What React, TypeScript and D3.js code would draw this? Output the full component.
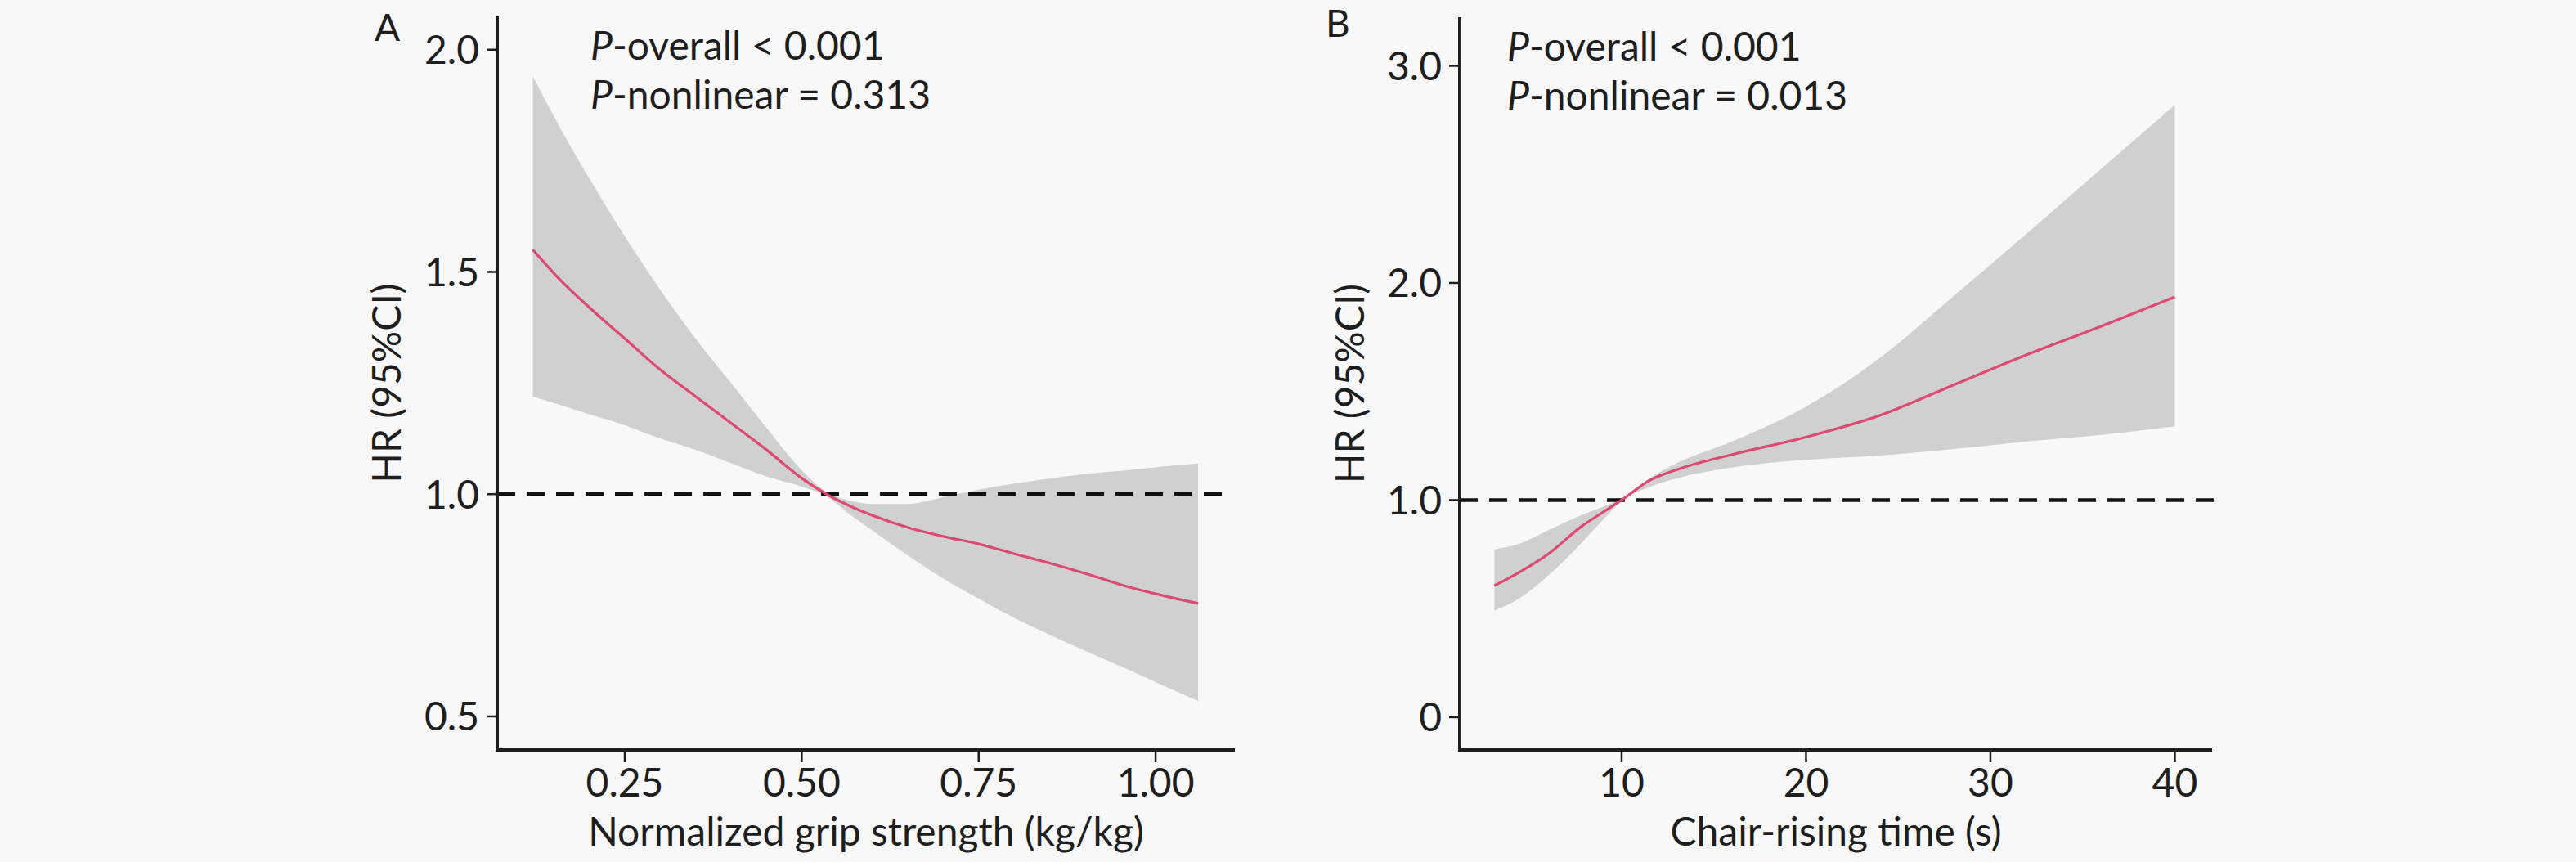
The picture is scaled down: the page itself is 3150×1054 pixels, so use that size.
import React from 'react';
import * as d3 from 'd3';

// Panel A: normalized grip strength
const gripX = [0.12, 0.16, 0.20, 0.25, 0.30, 0.35, 0.40, 0.45, 0.50, 0.535, 0.57, 0.60, 0.65, 0.70, 0.75, 0.80, 0.85, 0.90, 0.96, 1.01, 1.06];
const gripHR = [1.55, 1.48, 1.42, 1.35, 1.28, 1.22, 1.16, 1.10, 1.036, 1.00, 0.972, 0.952, 0.925, 0.905, 0.888, 0.866, 0.845, 0.822, 0.792, 0.772, 0.754];
const gripUpper = [1.94, 1.82, 1.71, 1.58, 1.46, 1.35, 1.25, 1.15, 1.054, 1.005, 0.985, 0.978, 0.978, 0.993, 1.01, 1.024, 1.035, 1.045, 1.054, 1.062, 1.069];
const gripLower = [1.22, 1.20, 1.18, 1.155, 1.125, 1.10, 1.07, 1.04, 1.017, 0.995, 0.952, 0.918, 0.862, 0.81, 0.765, 0.722, 0.684, 0.648, 0.606, 0.57, 0.535];
const gripXTicks = [0.25, 0.5, 0.75, 1.0];
const gripXLabels = ['0.25', '0.50', '0.75', '1.00'];
const gripYTicks = [0.5, 1.0, 1.5, 2.0];
const gripYLabels = ['0.5', '1.0', '1.5', '2.0'];

// Panel B: chair-rising time
const chairX = [3.1, 4.5, 6, 7.8, 9, 10, 11.5, 13, 16, 20, 24, 28, 32, 36, 40];
const chairHR = [0.606, 0.67, 0.75, 0.877, 0.945, 1.0, 1.09, 1.14, 1.21, 1.29, 1.39, 1.53, 1.67, 1.80, 1.936];
const chairUpper = [0.773, 0.80, 0.86, 0.93, 0.97, 1.005, 1.10, 1.17, 1.27, 1.43, 1.655, 1.94, 2.23, 2.525, 2.82];
const chairLower = [0.491, 0.55, 0.65, 0.80, 0.91, 0.995, 1.06, 1.10, 1.15, 1.185, 1.205, 1.235, 1.27, 1.30, 1.34];
const chairXTicks = [10, 20, 30, 40];
const chairXLabels = ['10', '20', '30', '40'];
const chairYTicks = [0, 1, 2, 3];
const chairYLabels = ['0', '1.0', '2.0', '3.0'];

const W = 3150;
const H = 1054;
const FONT = 'Lato, "Open Sans", sans-serif';
const BAND = '#d0d0d0';
const LINE = '#dd4a70';
const INK = '#1e1e1e';

interface PanelProps {
  letter: string;
  letterX: number;
  letterY: number;
  xs: number[];
  hr: number[];
  lo: number[];
  hi: number[];
  xDomain: [number, number];
  yDomain: [number, number];
  left: number;
  right: number;
  top: number;
  bottom: number;
  refEnd: number;
  xTicks: number[];
  xLabels: string[];
  yTicks: number[];
  yLabels: string[];
  xTitle: string;
  yTitleX: number;
  pOverall: string;
  pNonlinear: string;
  pX: number;
}

const Panel: React.FC<PanelProps> = (p) => {
  const x = d3.scaleLinear().domain(p.xDomain).range([p.left, p.right]);
  const y = d3.scaleLinear().domain(p.yDomain).range([p.bottom, p.top]);
  const pts = p.xs.map((v, i) => ({ x: v, hr: p.hr[i], lo: p.lo[i], hi: p.hi[i] }));

  const area = d3.area<typeof pts[0]>()
    .x(d => x(d.x))
    .y0(d => y(d.lo))
    .y1(d => y(d.hi))
    .curve(d3.curveMonotoneX);
  const line = d3.line<typeof pts[0]>()
    .x(d => x(d.x))
    .y(d => y(d.hr))
    .curve(d3.curveMonotoneX);

  const midX = (p.left + p.right) / 2;
  const midY = (p.top + p.bottom) / 2;

  return (
    <g fontFamily={FONT} fill={INK}>
      <path d={area(pts) || ''} fill={BAND} stroke="none" />
      <line x1={p.left} x2={p.refEnd} y1={y(1)} y2={y(1)} stroke="#111" strokeWidth={4.5} strokeDasharray="22 14" />
      <path d={line(pts) || ''} fill="none" stroke={LINE} strokeWidth={3.2} />

      {/* axes */}
      <line x1={p.left} x2={p.left} y1={p.top} y2={p.bottom + 2} stroke={INK} strokeWidth={4} />
      <line x1={p.left - 2} x2={p.right} y1={p.bottom} y2={p.bottom} stroke={INK} strokeWidth={4} />
      {p.yTicks.map((t, i) => (
        <g key={'y' + i}>
          <line x1={p.left - 13} x2={p.left} y1={y(t)} y2={y(t)} stroke={INK} strokeWidth={2.5} />
          <text x={p.left - 22} y={y(t)} dy="0.36em" textAnchor="end" fontSize={48}>{p.yLabels[i]}</text>
        </g>
      ))}
      {p.xTicks.map((t, i) => (
        <g key={'x' + i}>
          <line x1={x(t)} x2={x(t)} y1={p.bottom} y2={p.bottom + 15} stroke={INK} strokeWidth={2.5} />
          <text x={x(t)} y={p.bottom + 57} textAnchor="middle" fontSize={48}>{p.xLabels[i]}</text>
        </g>
      ))}

      <text x={midX} y={p.bottom + 117} textAnchor="middle" fontSize={48}>{p.xTitle}</text>
      <text transform={`translate(${p.yTitleX},${midY}) rotate(-90)`} textAnchor="middle" fontSize={48}>HR (95%CI)</text>
      <text x={p.letterX} y={p.letterY} fontSize={46}>{p.letter}</text>

      <text x={p.pX} y={p.top + 53} fontSize={48}>
        <tspan fontStyle="italic">P</tspan>-overall &lt; {p.pOverall}
      </text>
      <text x={p.pX} y={p.top + 113} fontSize={48}>
        <tspan fontStyle="italic">P</tspan>-nonlinear = {p.pNonlinear}
      </text>
    </g>
  );
};

const App: React.FC = () => {
  return (
    <svg width={W} height={H} style={{ position: 'absolute', left: 0, top: 0, display: 'block' }}>
      <rect width={W} height={H} fill="#f8f8f8" />
      <Panel
        letter="A" letterX={458} letterY={50}
        xs={gripX} hr={gripHR} lo={gripLower} hi={gripUpper}
        xDomain={[0.0697, 1.112]} yDomain={[0.4245, 2.075]}
        left={608} right={1510} top={20} bottom={917} refEnd={1500}
        xTicks={gripXTicks} xLabels={gripXLabels}
        yTicks={gripYTicks} yLabels={gripYLabels}
        xTitle="Normalized grip strength (kg/kg)" yTitleX={490}
        pOverall="0.001" pNonlinear="0.313" pX={722}
      />
      <Panel
        letter="B" letterX={1621} letterY={45}
        xs={chairX} hr={chairHR} lo={chairLower} hi={chairUpper}
        xDomain={[1.22, 42.02]} yDomain={[-0.151, 3.224]}
        left={1785} right={2705} top={21} bottom={917} refEnd={2709}
        xTicks={chairXTicks} xLabels={chairXLabels}
        yTicks={chairYTicks} yLabels={chairYLabels}
        xTitle="Chair-rising time (s)" yTitleX={1668}
        pOverall="0.001" pNonlinear="0.013" pX={1843}
      />
    </svg>
  );
};

export default App;
